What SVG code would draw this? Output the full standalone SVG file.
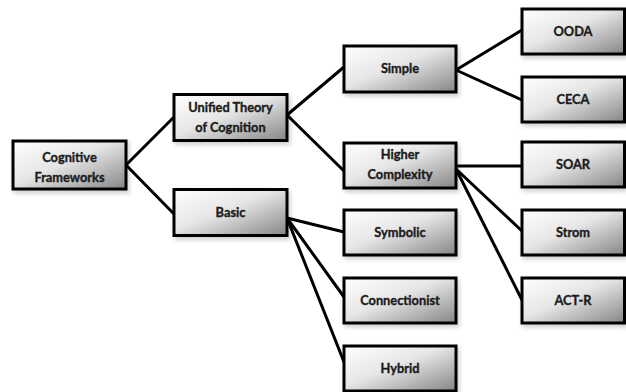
<svg xmlns="http://www.w3.org/2000/svg" width="626" height="392" viewBox="0 0 626 392">
<defs>
<linearGradient id="g" x1="0" y1="0" x2="1" y2="1">
<stop offset="0" stop-color="#ffffff"/>
<stop offset="0.45" stop-color="#e6e6e6"/>
<stop offset="1" stop-color="#858585"/>
</linearGradient>
<filter id="sh" x="-10%" y="-10%" width="130%" height="140%">
<feDropShadow dx="2" dy="3" stdDeviation="2" flood-color="#000" flood-opacity="0.18"/>
</filter>
</defs>
<style>
.box{fill:url(#g);stroke:#000;stroke-width:3;filter:url(#sh)}
.t{font-family:Lato,"Liberation Sans",sans-serif;font-weight:bold;font-size:12.8px;fill:#1c1c1c;stroke:#1c1c1c;stroke-width:0.35;text-anchor:middle}
.c{stroke:#000;stroke-width:3;fill:none;stroke-linecap:round}
</style>
<g id="connectors">
<line class="c" x1="126" y1="165" x2="174" y2="117"/>
<line class="c" x1="126" y1="165" x2="174" y2="214"/>
<line class="c" x1="287" y1="115" x2="344" y2="67"/>
<line class="c" x1="287" y1="115" x2="344" y2="171"/>
<line class="c" x1="456" y1="70" x2="522" y2="30"/>
<line class="c" x1="456" y1="70" x2="522" y2="100"/>
<line class="c" x1="456" y1="166" x2="522" y2="166"/>
<line class="c" x1="456" y1="169" x2="522" y2="231"/>
<line class="c" x1="456" y1="169" x2="522" y2="300"/>
<line class="c" x1="287" y1="218" x2="344" y2="232"/>
<line class="c" x1="287" y1="218" x2="344" y2="297"/>
<line class="c" x1="287" y1="218" x2="344" y2="362"/>
</g>
<g id="cognitive-frameworks"><rect class="box" x="13" y="141" width="113" height="48"/><text class="t" x="69.5" y="161.5">Cognitive</text><text class="t" x="69.5" y="181.5">Frameworks</text></g>
<g id="unified-theory"><rect class="box" x="174" y="94.5" width="113" height="46"/><text class="t" x="230.5" y="111.7">Unified Theory</text><text class="t" x="230.5" y="131.7">of Cognition</text></g>
<g id="basic"><rect class="box" x="174" y="189.5" width="113" height="46"/><text class="t" x="230.5" y="217">Basic</text></g>
<g id="simple"><rect class="box" x="344" y="46" width="112" height="46"/><text class="t" x="400" y="73">Simple</text></g>
<g id="higher-complexity"><rect class="box" x="344" y="143" width="112" height="45"/><text class="t" x="400" y="159">Higher</text><text class="t" x="400" y="179">Complexity</text></g>
<g id="symbolic"><rect class="box" x="344" y="210" width="112" height="45"/><text class="t" x="400" y="237">Symbolic</text></g>
<g id="connectionist"><rect class="box" x="344" y="278" width="112" height="45"/><text class="t" x="400" y="305">Connectionist</text></g>
<g id="hybrid"><rect class="box" x="344" y="346" width="112" height="45"/><text class="t" x="400" y="373">Hybrid</text></g>
<g id="ooda"><rect class="box" x="522" y="9" width="102.5" height="45"/><text class="t" x="573" y="36">OODA</text></g>
<g id="ceca"><rect class="box" x="522" y="77" width="102.5" height="45"/><text class="t" x="573" y="104">CECA</text></g>
<g id="soar"><rect class="box" x="522" y="142" width="102.5" height="45"/><text class="t" x="573" y="169">SOAR</text></g>
<g id="strom"><rect class="box" x="522" y="210" width="102.5" height="45"/><text class="t" x="573" y="237">Strom</text></g>
<g id="act-r"><rect class="box" x="522" y="278" width="102.5" height="45"/><text class="t" x="573" y="305">ACT-R</text></g>
</svg>
